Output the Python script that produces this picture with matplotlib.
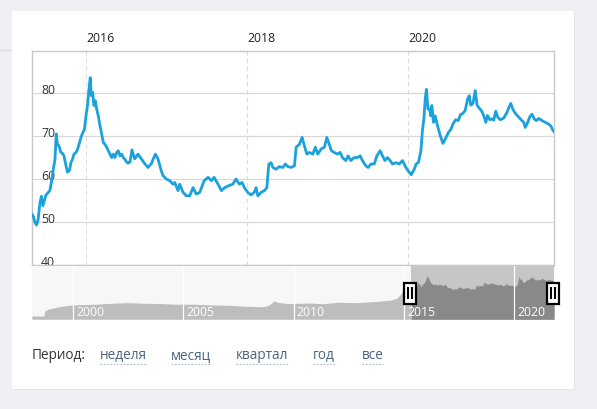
import numpy as np
import matplotlib
matplotlib.use('Agg')
import matplotlib.pyplot as plt
import matplotlib.transforms as mtransforms
from matplotlib.patches import Rectangle
from matplotlib.lines import Line2D

plt.rcParams['font.family'] = ['Open Sans', 'DejaVu Sans']

# Main series (decimal year, rate)
years = [2015.329, 2015.348, 2015.366, 2015.385, 2015.404, 2015.429, 2015.447, 2015.466, 2015.484, 2015.503,
         2015.528, 2015.553, 2015.578, 2015.596, 2015.615, 2015.631, 2015.646, 2015.665, 2015.689, 2015.708,
         2015.727, 2015.752, 2015.770, 2015.795, 2015.814, 2015.832, 2015.851, 2015.876, 2015.894, 2015.913,
         2015.938, 2015.963, 2015.981, 2016.000, 2016.019, 2016.037, 2016.053, 2016.066, 2016.083, 2016.099,
         2016.116, 2016.133, 2016.153, 2016.174, 2016.195, 2016.215, 2016.236, 2016.257, 2016.277, 2016.298,
         2016.319, 2016.339, 2016.360, 2016.381, 2016.401, 2016.422, 2016.443, 2016.463, 2016.484, 2016.506,
         2016.522, 2016.547, 2016.571, 2016.605, 2016.646, 2016.687, 2016.729, 2016.770, 2016.811, 2016.861,
         2016.894, 2016.935, 2016.957, 2016.998, 2017.040, 2017.081, 2017.102, 2017.143, 2017.164, 2017.205,
         2017.246, 2017.288, 2017.329, 2017.370, 2017.412, 2017.466, 2017.516, 2017.557, 2017.590, 2017.640,
         2017.681, 2017.723, 2017.764, 2017.822, 2017.863, 2017.904, 2017.938, 2017.966, 2018.009, 2018.050,
         2018.087, 2018.112, 2018.133, 2018.174, 2018.215, 2018.245, 2018.270, 2018.298, 2018.319, 2018.360,
         2018.401, 2018.443, 2018.476, 2018.506, 2018.547, 2018.588, 2018.609, 2018.650, 2018.683, 2018.712,
         2018.742, 2018.774, 2018.816, 2018.848, 2018.878, 2018.919, 2018.960, 2018.990, 2019.019, 2019.047,
         2019.081, 2019.122, 2019.155, 2019.184, 2019.226, 2019.255, 2019.288, 2019.329, 2019.370, 2019.404,
         2019.432, 2019.474, 2019.503, 2019.537, 2019.578, 2019.611, 2019.652, 2019.681, 2019.711, 2019.743,
         2019.776, 2019.805, 2019.847, 2019.888, 2019.929, 2019.971, 2020.012, 2020.037, 2020.075, 2020.099,
         2020.128, 2020.158, 2020.178, 2020.195, 2020.211, 2020.226, 2020.245, 2020.265, 2020.280, 2020.294,
         2020.314, 2020.335, 2020.364, 2020.398, 2020.431, 2020.460, 2020.501, 2020.528, 2020.555, 2020.588,
         2020.621, 2020.650, 2020.680, 2020.708, 2020.737, 2020.758, 2020.776, 2020.804, 2020.832, 2020.855,
         2020.882, 2020.913, 2020.944, 2020.963, 2020.985, 2021.012, 2021.037, 2021.062, 2021.087, 2021.112,
         2021.143, 2021.186, 2021.226, 2021.246, 2021.273, 2021.298, 2021.329, 2021.373, 2021.412, 2021.435,
         2021.453, 2021.475, 2021.507, 2021.537, 2021.565, 2021.590, 2021.619, 2021.661, 2021.702, 2021.743,
         2021.772, 2021.797, 2021.814]
rates = [51.8, 51.2, 50.0, 49.3, 50.3, 54.5, 56.0, 53.8, 55.0, 56.3,
         56.8, 57.4, 60.0, 62.5, 64.5, 70.5, 68.0, 67.7, 66.2, 66.0,
         65.4, 63.1, 61.6, 62.0, 63.9, 64.6, 65.8, 66.2, 66.9, 68.0,
         69.7, 70.9, 71.6, 74.7, 77.1, 80.9, 83.6, 79.4, 80.2, 77.1,
         78.2, 76.3, 74.7, 72.4, 70.5, 68.5, 68.1, 67.4, 66.6, 65.8,
         65.0, 65.8, 65.0, 66.2, 66.6, 65.4, 65.8, 65.0, 64.6, 63.9,
         63.7, 64.0, 66.8, 64.7, 65.8, 64.7, 63.6, 62.7, 63.6, 65.8,
         64.7, 61.9, 60.8, 60.0, 59.6, 58.8, 59.2, 57.3, 58.8, 56.9,
         56.1, 56.1, 58.0, 56.5, 56.9, 59.6, 60.4, 59.6, 60.4, 58.8,
         57.3, 58.0, 58.4, 58.8, 60.0, 58.8, 59.2, 58.0, 56.9, 56.3,
         56.9, 58.0, 56.1, 56.9, 57.3, 58.0, 63.5, 63.8, 62.7, 62.3,
         62.9, 62.7, 63.5, 62.9, 62.7, 63.1, 67.4, 68.1, 69.7, 67.7,
         65.8, 66.2, 65.8, 67.4, 65.8, 67.0, 67.4, 69.7, 68.1, 66.6,
         66.2, 65.8, 66.2, 65.0, 64.3, 65.4, 64.3, 65.0, 65.0, 65.4,
         64.3, 63.1, 62.7, 63.5, 63.5, 65.4, 66.6, 65.4, 64.3, 65.0,
         64.3, 63.5, 63.8, 63.5, 64.3, 62.7, 61.6, 61.0, 62.3, 63.5,
         63.9, 66.6, 71.6, 74.0, 78.6, 80.9, 76.3, 76.3, 74.7, 77.1,
         73.2, 74.7, 72.4, 70.1, 68.3, 69.3, 70.9, 71.5, 72.8, 73.8,
         73.6, 75.0, 75.3, 76.0, 78.6, 79.4, 77.2, 77.6, 80.6, 77.2,
         76.5, 75.8, 74.4, 73.2, 74.8, 73.8, 74.0, 73.7, 75.8, 74.4,
         73.8, 74.2, 75.5, 76.5, 77.6, 76.3, 75.3, 74.4, 73.6, 73.2,
         72.0, 72.8, 74.4, 75.1, 74.0, 73.6, 74.1, 73.6, 73.2, 72.8,
         72.3, 71.3, 71.0]

# Navigator history before the selected window
hist_years = [1998.14, 1998.68, 1998.72, 1998.87, 1999.17, 1999.47, 1999.92, 2000.5, 2000.98, 2001.74,
              2002.49, 2003.25, 2004.0, 2004.76, 2005.52, 2006.27, 2007.03, 2007.79, 2008.54, 2008.8,
              2008.92, 2009.12, 2009.3, 2009.75, 2010.14, 2010.7, 2011.35, 2011.8, 2012.1, 2012.87,
              2013.62, 2014.38, 2014.68, 2014.86, 2014.98, 2015.05, 2015.12, 2015.2, 2015.28]
hist_rates = [6.0, 6.0, 15.5, 18.7, 21.7, 24.3, 26.8, 27.6, 28.1, 30.0,
              31.1, 30.0, 29.4, 28.1, 28.1, 26.8, 26.2, 24.5, 23.4, 25.0,
              27.5, 34.3, 31.5, 29.5, 29.8, 30.5, 29.2, 31.0, 31.9, 31.0,
              33.0, 35.7, 39.4, 47.0, 56.4, 63.0, 66.0, 58.0, 52.5]

top_ticks = [2016, 2018, 2020]
y_ticks = [40, 50, 60, 70, 80]
nav_ticks = [2000, 2005, 2010, 2015, 2020]
period_label = 'Период:'
period_links = ['неделя', 'месяц', 'квартал', 'год', 'все']

x_start, x_end = 2015.33, 2021.81
nav_start = 1998.14

W, H = 597, 410
fig = plt.figure(figsize=(W / 100, H / 100), dpi=100)
fig.patch.set_facecolor('#eef0f3')

# card
fig.patches.append(Rectangle((13 / W, 1 - 391 / H), 562 / W, 378 / H, transform=fig.transFigure,
                             facecolor='#e2e4e8', edgecolor='none', zorder=-2))
fig.patches.append(Rectangle((12 / W, 1 - 390 / H), 562 / W, 378 / H, transform=fig.transFigure,
                             facecolor='white', edgecolor='none', zorder=-1))
fig.lines.append(Line2D([0, 12 / W], [1 - 51 / H, 1 - 51 / H], transform=fig.transFigure,
                        color='#dcdfe4', lw=1, zorder=-1))

# main chart
ax = fig.add_axes([32 / W, 1 - 266 / H, 522 / W, 214 / H])
ax.plot(years, rates, color='#1ba1dc', lw=2.0, solid_joinstyle='round', zorder=3)
ax.set_xlim(x_start, x_end)
ax.set_ylim(40, 89.8)
ax.set_yticks(y_ticks)
ax.set_xticks(top_ticks)
ax.set_xticklabels([str(t) for t in top_ticks])
ax.set_yticklabels([str(t) for t in y_ticks])
ax.grid(axis='y', color='#d9d9d9', lw=0.9)
ax.grid(axis='x', color='#dcdcdc', lw=0.8, linestyle=(0, (4, 3)))
ax.tick_params(axis='x', top=True, bottom=False, labeltop=True, labelbottom=False,
               length=0, pad=5.0, labelsize=8.8, labelcolor='#222222')
ax.tick_params(axis='y', length=0, pad=-6.5, labelsize=8.8, labelcolor='#333333')
for lab in ax.get_xticklabels():
    lab.set_ha('left')
for lab in ax.get_yticklabels():
    lab.set_ha('left')
    lab.set_va('baseline')
for s in ax.spines.values():
    s.set_color('#c8c8c8')
    s.set_linewidth(1)
ax.set_axisbelow(True)

# navigator
nav = fig.add_axes([32 / W, 1 - 321.3 / H, 522 / W, 54.3 / H])
nav.set_facecolor('#f7f7f7')
all_years = np.array(hist_years + years)
all_rates = np.array(hist_rates + rates)
nav.axvspan(x_start, x_end, color='#c6c6c6', lw=0, zorder=1)
nav.fill_between(all_years, 0, all_rates, color='#bdbdbd', lw=0, zorder=2)
sel = all_years >= x_start
nav.fill_between(all_years[sel], 0, all_rates[sel], color='#898989', lw=0, zorder=3)
nav.set_xlim(nav_start, x_end)
nav.set_ylim(-2, 100)
nav.set_xticks([])
nav.set_yticks([])
for s in nav.spines.values():
    s.set_visible(False)
btrans = mtransforms.blended_transform_factory(nav.transData, nav.transAxes)
lab_trans = mtransforms.offset_copy(btrans, fig=fig, x=2.3, y=0, units='points')
for t in nav_ticks:
    nav.axvline(t, color='white', lw=0.9, zorder=4)
    nav.text(t, 0.17, str(t), transform=lab_trans, color='white', fontsize=8.8,
             ha='left', va='center', zorder=5)

# selection handles
px_yr = 522 / (x_end - nav_start)
hw = 12.5 / px_yr
for xc in [x_start - 0.05, x_end - 0.05]:
    nav.add_patch(Rectangle((xc - hw / 2, 0.305), hw, 0.39, transform=btrans, facecolor='white',
                            edgecolor='black', lw=1.6, zorder=6, clip_on=False))
    for dx in [-2.2, 2.2]:
        nav.plot([xc + dx / px_yr] * 2, [0.39, 0.61], transform=btrans, color='black',
                 lw=1.5, zorder=7, clip_on=False, solid_capstyle='butt')

# period selector
fig.text(32 / W, 1 - 356 / H, period_label, fontsize=9.8, color='#333333', ha='left', va='center')
link_x = [100, 171, 236, 313, 361.5]
link_texts = []
for x, s in zip(link_x, period_links):
    link_texts.append(fig.text(x / W, 1 - 356 / H, s, fontsize=9.8, color='#4d6580',
                               ha='left', va='center'))
fig.canvas.draw()
r = fig.canvas.get_renderer()
for t in link_texts:
    bb = t.get_window_extent(r)
    fig.lines.append(Line2D([bb.x0 / W, bb.x1 / W], [1 - 364.5 / H] * 2, transform=fig.transFigure,
                            color='#a9b8c8', lw=0.8, linestyle=(0, (1.5, 1.5))))

fig.savefig('out.png', dpi=100, facecolor=fig.get_facecolor())
